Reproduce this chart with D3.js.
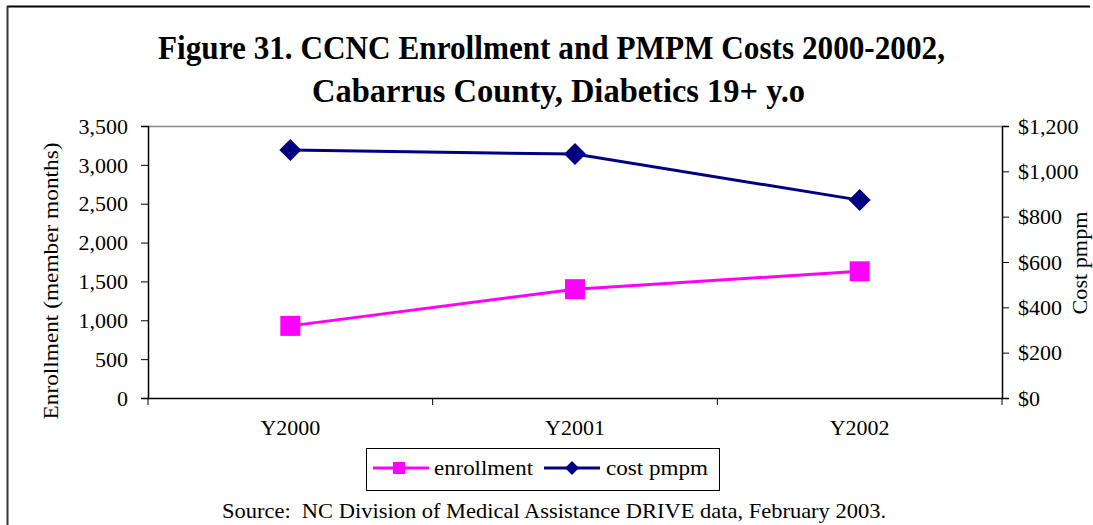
<!DOCTYPE html>
<html>
<head>
<meta charset="utf-8">
<script src="https://cdn.jsdelivr.net/npm/d3@7"></script>
<style>
  body { margin: 0; background: #fff; }
  svg text { font-family: "Liberation Serif", "Times New Roman", serif; fill: #000; }
</style>
</head>
<body>
<div id="chart"></div>
<script>
// data
var years = ["Y2000", "Y2001", "Y2002"];
var enrollment = [928, 1400, 1630];
var costPmpm = [1094, 1076, 873];
var leftTicks = [0, 500, 1000, 1500, 2000, 2500, 3000, 3500];
var rightTicks = [0, 200, 400, 600, 800, 1000, 1200];

var W = 1093, H = 525;
var margin = { top: 126, right: 91, bottom: 127, left: 148 },
    width = W - margin.left - margin.right,
    height = H - margin.top - margin.bottom;

var svg = d3.select("#chart")
    .append("svg")
    .attr("width", W)
    .attr("height", H);

// outer frame (top + left only, as in the source)
svg.append("line")
    .attr("x1", 7).attr("x2", 1090).attr("y1", 6.5).attr("y2", 6.5)
    .attr("stroke", "#000").attr("stroke-width", 2);
svg.append("line")
    .attr("x1", 7.5).attr("x2", 7.5).attr("y1", 6).attr("y2", H)
    .attr("stroke", "#333").attr("stroke-width", 2);

// title (condensed bold, like the original)
svg.append("text")
    .attr("x", 158).attr("y", 59)
    .attr("textLength", 787).attr("lengthAdjust", "spacingAndGlyphs")
    .style("font-size", "34px").style("font-weight", "bold")
    .text("Figure 31. CCNC Enrollment and PMPM Costs 2000-2002,");
svg.append("text")
    .attr("x", 312).attr("y", 102)
    .attr("textLength", 493).attr("lengthAdjust", "spacingAndGlyphs")
    .style("font-size", "34px").style("font-weight", "bold")
    .text("Cabarrus County, Diabetics 19+ y.o");

var g = svg.append("g")
    .attr("transform", "translate(" + margin.left + "," + margin.top + ")");

var x = d3.scaleBand()
    .domain(years)
    .range([0, width]);

var yL = d3.scaleLinear()
    .domain([0, 3500])
    .range([height, 0]);

var yR = d3.scaleLinear()
    .domain([0, 1200])
    .range([height, 0]);

// top border of plot area
g.append("line")
    .attr("x1", 0).attr("x2", width).attr("y1", 0.5).attr("y2", 0.5)
    .attr("stroke", "#888").attr("stroke-width", 1.5);

// left axis
var la = g.append("g")
    .call(d3.axisLeft(yL).tickValues(leftTicks).tickSize(7).tickPadding(13)
        .tickFormat(d3.format(",")));
la.selectAll("text").style("font-size", "22px").attr("dy", "0.33em");

// right axis
var ra = g.append("g")
    .attr("transform", "translate(" + width + ",0)")
    .call(d3.axisRight(yR).tickValues(rightTicks).tickSize(7).tickPadding(9)
        .tickFormat(function (d) { return "$" + d3.format(",")(d); }));
ra.selectAll("text").style("font-size", "22px").attr("dy", "0.33em");

// bottom axis, ticks between categories
var xa = g.append("g")
    .attr("transform", "translate(0," + height + ")")
    .call(d3.axisBottom(x).tickSize(0).tickPadding(21));
xa.selectAll("text").style("font-size", "22px").attr("dy", "0.71em");
var bounds = years.map(function (d) { return x(d); }).concat([width]);
xa.selectAll(".sep")
    .data(bounds)
    .enter()
    .append("line")
    .attr("x1", function (d) { return d; })
    .attr("x2", function (d) { return d; })
    .attr("y1", 0).attr("y2", 7)
    .attr("stroke", "#000");

[la, ra, xa].forEach(function (a) {
    a.select(".domain").attr("stroke", "#000").attr("stroke-width", 1.5);
});

function cx(d, i) { return x(years[i]) + x.bandwidth() / 2; }

// enrollment line
g.append("path")
    .datum(enrollment)
    .attr("fill", "none")
    .attr("stroke", "#ff00ff")
    .attr("stroke-width", 3)
    .attr("d", d3.line().x(cx).y(function (d) { return yL(d); }));

g.selectAll(".sq")
    .data(enrollment)
    .enter()
    .append("rect")
    .attr("x", function (d, i) { return cx(d, i) - 10; })
    .attr("y", function (d) { return yL(d) - 10; })
    .attr("width", 20).attr("height", 20)
    .attr("fill", "#ff00ff");

// cost line
g.append("path")
    .datum(costPmpm)
    .attr("fill", "none")
    .attr("stroke", "#000080")
    .attr("stroke-width", 3)
    .attr("d", d3.line().x(cx).y(function (d) { return yR(d); }));

g.selectAll(".dm")
    .data(costPmpm)
    .enter()
    .append("path")
    .attr("transform", function (d, i) { return "translate(" + cx(d, i) + "," + yR(d) + ")"; })
    .attr("d", "M0,-11L11,0L0,11L-11,0Z")
    .attr("fill", "#000080");

// axis titles
svg.append("text")
    .attr("transform", "translate(58,281) rotate(-90)")
    .attr("text-anchor", "middle")
    .attr("textLength", 277).attr("lengthAdjust", "spacingAndGlyphs")
    .style("font-size", "22px")
    .text("Enrollment (member months)");
svg.append("text")
    .attr("transform", "translate(1087,263) rotate(-90)")
    .attr("text-anchor", "middle")
    .attr("textLength", 103).attr("lengthAdjust", "spacingAndGlyphs")
    .style("font-size", "22px")
    .text("Cost pmpm");

// legend
var lg = svg.append("g");
lg.append("rect")
    .attr("x", 366.5).attr("y", 448.5).attr("width", 353).attr("height", 42)
    .attr("fill", "#fff").attr("stroke", "#000");
var legendItems = [
    { name: "enrollment", color: "#ff00ff", shape: "sq", x0: 373, tx: 434, tw: 99 },
    { name: "cost pmpm", color: "#000080", shape: "dm", x0: 544, tx: 606, tw: 102 }
];
legendItems.forEach(function (it) {
    lg.append("line")
        .attr("x1", it.x0).attr("x2", it.x0 + 56)
        .attr("y1", 468).attr("y2", 468)
        .attr("stroke", it.color).attr("stroke-width", 3);
    if (it.shape === "sq") {
        lg.append("rect")
            .attr("x", it.x0 + 20).attr("y", 462)
            .attr("width", 12).attr("height", 12)
            .attr("fill", it.color);
    } else {
        lg.append("path")
            .attr("transform", "translate(" + (it.x0 + 28) + ",468)")
            .attr("d", "M0,-7L7,0L0,7L-7,0Z")
            .attr("fill", it.color);
    }
    lg.append("text")
        .attr("x", it.tx).attr("y", 475)
        .attr("textLength", it.tw).attr("lengthAdjust", "spacingAndGlyphs")
        .style("font-size", "22px")
        .text(it.name);
});

// source note
svg.append("text")
    .attr("x", 222).attr("y", 518)
    .attr("textLength", 664).attr("lengthAdjust", "spacingAndGlyphs")
    .attr("xml:space", "preserve")
    .style("font-size", "22px")
    .text("Source:  NC Division of Medical Assistance DRIVE data, February 2003.");
</script>
</body>
</html>
